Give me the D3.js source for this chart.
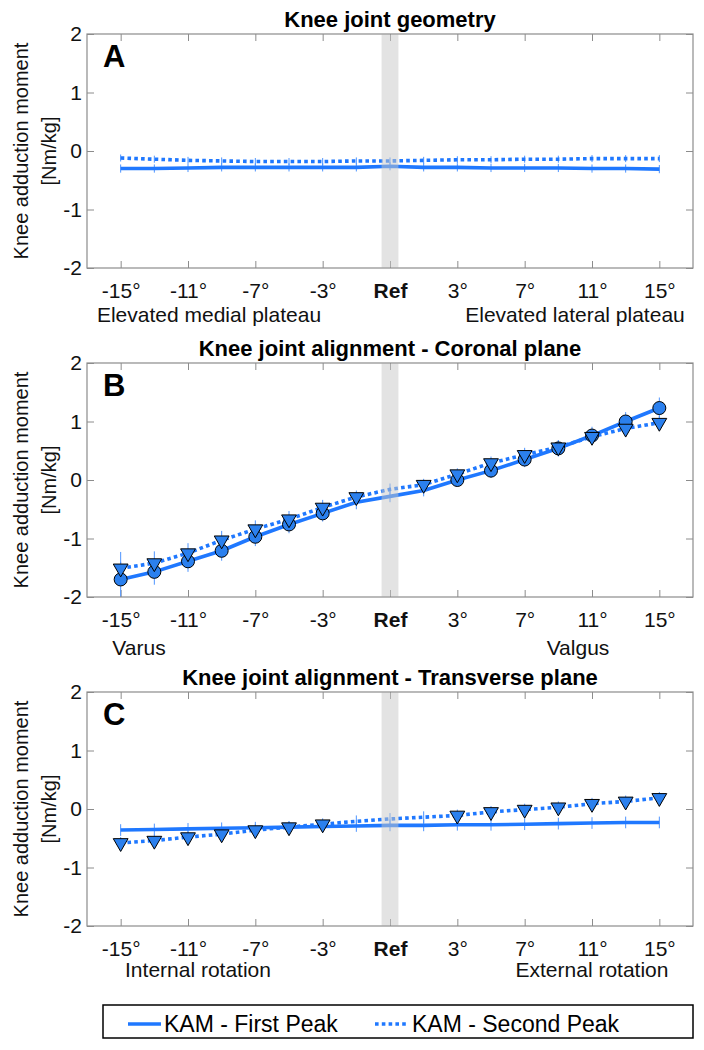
<!DOCTYPE html>
<html>
<head>
<meta charset="utf-8">
<script src="https://cdn.jsdelivr.net/npm/d3@7/dist/d3.min.js"></script>
<style>
  html, body { margin: 0; padding: 0; background: #fff; }
  svg { display: block; font-family: "Liberation Sans", Arial, Helvetica, sans-serif; }
</style>
</head>
<body>
<svg id="chart" width="704" height="1050"></svg>
<script>
// ---------------- DATA ----------------
const positions = ["-15°","-13°","-11°","-9°","-7°","-5°","-3°","-1°","Ref","1°","3°","5°","7°","9°","11°","13°","15°"];
const tickLabels = ["-15°","-11°","-7°","-3°","Ref","3°","7°","11°","15°"];
const yTicks = [-2, -1, 0, 1, 2];

const panelTitles = ["Knee joint geometry", "Knee joint alignment - Coronal plane", "Knee joint alignment - Transverse plane"];
const panelLetters = ["A", "B", "C"];
const leftLabels = ["Elevated medial plateau", "Varus", "Internal rotation"];
const rightLabels = ["Elevated lateral plateau", "Valgus", "External rotation"];
const seriesNames = ["KAM - First Peak", "KAM - Second Peak"];

// Panel A – knee joint geometry
const firstPeakA  = [-0.30,-0.30,-0.29,-0.28,-0.28,-0.28,-0.28,-0.28,-0.26,-0.28,-0.28,-0.29,-0.29,-0.29,-0.30,-0.30,-0.31];
const secondPeakA = [-0.12,-0.14,-0.16,-0.17,-0.18,-0.18,-0.18,-0.17,-0.17,-0.16,-0.15,-0.15,-0.14,-0.14,-0.13,-0.13,-0.13];
const errFirstA   = [0.07,0.07,0.07,0.07,0.07,0.07,0.07,0.07,0.07,0.07,0.07,0.07,0.07,0.07,0.07,0.07,0.07];
const errSecondA  = [0.06,0.06,0.06,0.06,0.06,0.06,0.06,0.06,0.06,0.06,0.06,0.06,0.06,0.06,0.06,0.06,0.06];
const markFirstA  = [];
const markSecondA = [];

// Panel B – coronal alignment
const firstPeakB  = [-1.70,-1.57,-1.39,-1.21,-0.97,-0.76,-0.57,-0.38,-0.28,-0.18,0.00,0.16,0.35,0.54,0.76,1.00,1.23];
const secondPeakB = [-1.51,-1.42,-1.25,-1.03,-0.84,-0.67,-0.47,-0.29,-0.16,-0.08,0.10,0.29,0.43,0.56,0.74,0.88,0.98];
const errFirstB   = [0.30,0.22,0.18,0.17,0.16,0.15,0.14,0.12,0.10,0.10,0.11,0.12,0.13,0.14,0.15,0.16,0.18];
const errSecondB  = [0.28,0.20,0.17,0.16,0.15,0.14,0.13,0.11,0.10,0.10,0.10,0.11,0.12,0.12,0.12,0.12,0.12];
const markFirstB  = [0,1,2,3,4,5,6,10,11,12,13,14,15,16];
const markSecondB = [0,1,2,3,4,5,6,7,9,10,11,12,13,14,15,16];

// Panel C – transverse alignment
const firstPeakC  = [-0.36,-0.35,-0.34,-0.33,-0.32,-0.31,-0.30,-0.29,-0.28,-0.28,-0.27,-0.27,-0.26,-0.25,-0.24,-0.23,-0.23];
const secondPeakC = [-0.58,-0.54,-0.48,-0.43,-0.36,-0.31,-0.26,-0.21,-0.17,-0.14,-0.11,-0.05,-0.01,0.03,0.09,0.13,0.19];
const errFirstC   = [0.10,0.10,0.10,0.10,0.10,0.10,0.10,0.10,0.10,0.10,0.10,0.10,0.10,0.10,0.10,0.10,0.10];
const errSecondC  = [0.10,0.10,0.10,0.10,0.10,0.10,0.10,0.10,0.10,0.10,0.10,0.10,0.10,0.10,0.10,0.10,0.10];
const markFirstC  = [];
const markSecondC = [0,1,2,3,4,5,6,10,11,12,13,14,15,16];

// ---------------- LAYOUT ----------------
const panels = [
  {first: firstPeakA, second: secondPeakA, e1: errFirstA, e2: errSecondA, m1: markFirstA, m2: markSecondA,
   top: 34, subY: 54, leftX: 209, rightX: 575},
  {first: firstPeakB, second: secondPeakB, e1: errFirstB, e2: errSecondB, m1: markFirstB, m2: markSecondB,
   top: 363, subY: 58, leftX: 139, rightX: 578},
  {first: firstPeakC, second: secondPeakC, e1: errFirstC, e2: errSecondC, m1: markFirstC, m2: markSecondC,
   top: 692, subY: 51, leftX: 198, rightX: 592}
];
const left = 87, right = 693, ph = 234;
const blue = "#1f78ff", markerFill = "#2b80ee", frameCol = "#8c8c8c", textCol = "#111";

const svg = d3.select("#chart");
svg.append("rect").attr("width", 704).attr("height", 1050).attr("fill", "#fff");

const x = d3.scaleLinear().domain([-1, positions.length]).range([left, right]);
const tickIdx = tickLabels.map(t => positions.indexOf(t));

panels.forEach((p, pi) => {
  const top = p.top, bottom = top + ph;
  const y = d3.scaleLinear().domain([-2, 2]).range([bottom, top]);
  const g = svg.append("g");

  g.append("rect").attr("x", left).attr("y", top).attr("width", right - left).attr("height", ph).attr("fill", "#fff");

  const ax = (axis, tx, ty) => {
    const a = g.append("g").attr("transform", `translate(${tx},${ty})`).call(axis);
    a.select(".domain").remove();
    a.selectAll(".tick line").attr("stroke", frameCol).attr("stroke-width", 1);
    a.selectAll("text").attr("fill", textCol).style("font-size", "21px");
    return a;
  };
  ax(d3.axisLeft(y).tickValues(yTicks).tickSize(-7).tickPadding(5).tickFormat(d => String(d)), left, 0);
  ax(d3.axisRight(y).tickValues(yTicks).tickSize(-7).tickFormat(""), right, 0);
  const bx = ax(d3.axisBottom(x).tickValues(tickIdx).tickSize(-7).tickPadding(15).tickFormat(i => positions[i]), 0, bottom);
  bx.selectAll("text").style("font-weight", d => positions[d] === "Ref" ? "bold" : "normal");
  ax(d3.axisTop(x).tickValues(tickIdx).tickSize(-7).tickFormat(""), 0, top);

  // error bars
  [[p.first, p.e1], [p.second, p.e2]].forEach(([vals, errs]) => {
    g.append("g").selectAll("line").data(vals).join("line")
      .attr("x1", (d, i) => x(i)).attr("x2", (d, i) => x(i))
      .attr("y1", (d, i) => y(d - errs[i])).attr("y2", (d, i) => y(d + errs[i]))
      .attr("stroke", "#4d94ff").attr("stroke-width", 1);
  });

  // lines
  const line = d3.line().x((d, i) => x(i)).y(d => y(d)).curve(d3.curveLinear);
  g.append("path").datum(p.first).attr("d", line).attr("fill", "none")
    .attr("stroke", blue).attr("stroke-width", 3.6).attr("stroke-linejoin", "round");
  g.append("path").datum(p.second).attr("d", line).attr("fill", "none")
    .attr("stroke", blue).attr("stroke-width", 3.6).attr("stroke-dasharray", "3.6,3.2");

  // markers
  g.append("g").selectAll("circle").data(p.m1).join("circle")
    .attr("cx", i => x(i)).attr("cy", i => y(p.first[i])).attr("r", 6.5)
    .attr("fill", markerFill).attr("stroke", "#000").attr("stroke-width", 1);
  const tri = d3.symbol().type(d3.symbolTriangle).size(95);
  g.append("g").selectAll("path").data(p.m2).join("path")
    .attr("d", tri)
    .attr("transform", i => `translate(${x(i)},${y(p.second[i])}) rotate(180)`)
    .attr("fill", markerFill).attr("stroke", "#000").attr("stroke-width", 1);

  // reference band
  g.append("rect").attr("x", x(positions.indexOf("Ref") - 0.25)).attr("y", top + 0.5)
    .attr("width", x(0.25) - x(-0.25)).attr("height", ph - 1)
    .attr("fill", "#c8c8c8").attr("opacity", 0.5);

  // frame
  g.append("rect").attr("x", left).attr("y", top).attr("width", right - left).attr("height", ph)
    .attr("fill", "none").attr("stroke", frameCol).attr("stroke-width", 1.2);

  g.append("text").attr("x", (left + right) / 2).attr("y", top - 7).attr("text-anchor", "middle")
    .style("font-size", "22px").style("font-weight", "bold").attr("fill", "#000").text(panelTitles[pi]);
  g.append("text").attr("x", left + 16).attr("y", top + 33)
    .style("font-size", "31px").style("font-weight", "bold").attr("fill", "#000").text(panelLetters[pi]);

  g.append("text").attr("x", p.leftX).attr("y", bottom + p.subY).attr("text-anchor", "middle")
    .style("font-size", "21px").attr("fill", textCol).text(leftLabels[pi]);
  g.append("text").attr("x", p.rightX).attr("y", bottom + p.subY).attr("text-anchor", "middle")
    .style("font-size", "21px").attr("fill", textCol).text(rightLabels[pi]);

  const cy = (top + bottom) / 2;
  g.append("text").attr("transform", `translate(28,${cy}) rotate(-90)`).attr("text-anchor", "middle")
    .style("font-size", "20px").attr("fill", textCol).text("Knee adduction moment");
  g.append("text").attr("transform", `translate(56,${cy}) rotate(-90)`).attr("text-anchor", "middle")
    .style("font-size", "20px").attr("fill", textCol).text("[Nm/kg]");
});

// ---------------- LEGEND ----------------
const lg = svg.append("g");
lg.append("rect").attr("x", 103).attr("y", 1005).attr("width", 590).attr("height", 33)
  .attr("fill", "#fff").attr("stroke", "#000").attr("stroke-width", 1.5);
lg.append("line").attr("x1", 128).attr("x2", 161).attr("y1", 1024).attr("y2", 1024)
  .attr("stroke", blue).attr("stroke-width", 3.6);
lg.append("text").attr("x", 164).attr("y", 1032).style("font-size", "23px").attr("fill", "#000").text(seriesNames[0]);
lg.append("line").attr("x1", 375).attr("x2", 407).attr("y1", 1024).attr("y2", 1024)
  .attr("stroke", blue).attr("stroke-width", 3.6).attr("stroke-dasharray", "3.6,3.2");
lg.append("text").attr("x", 412).attr("y", 1032).style("font-size", "23px").attr("fill", "#000").text(seriesNames[1]);
</script>
</body>
</html>
